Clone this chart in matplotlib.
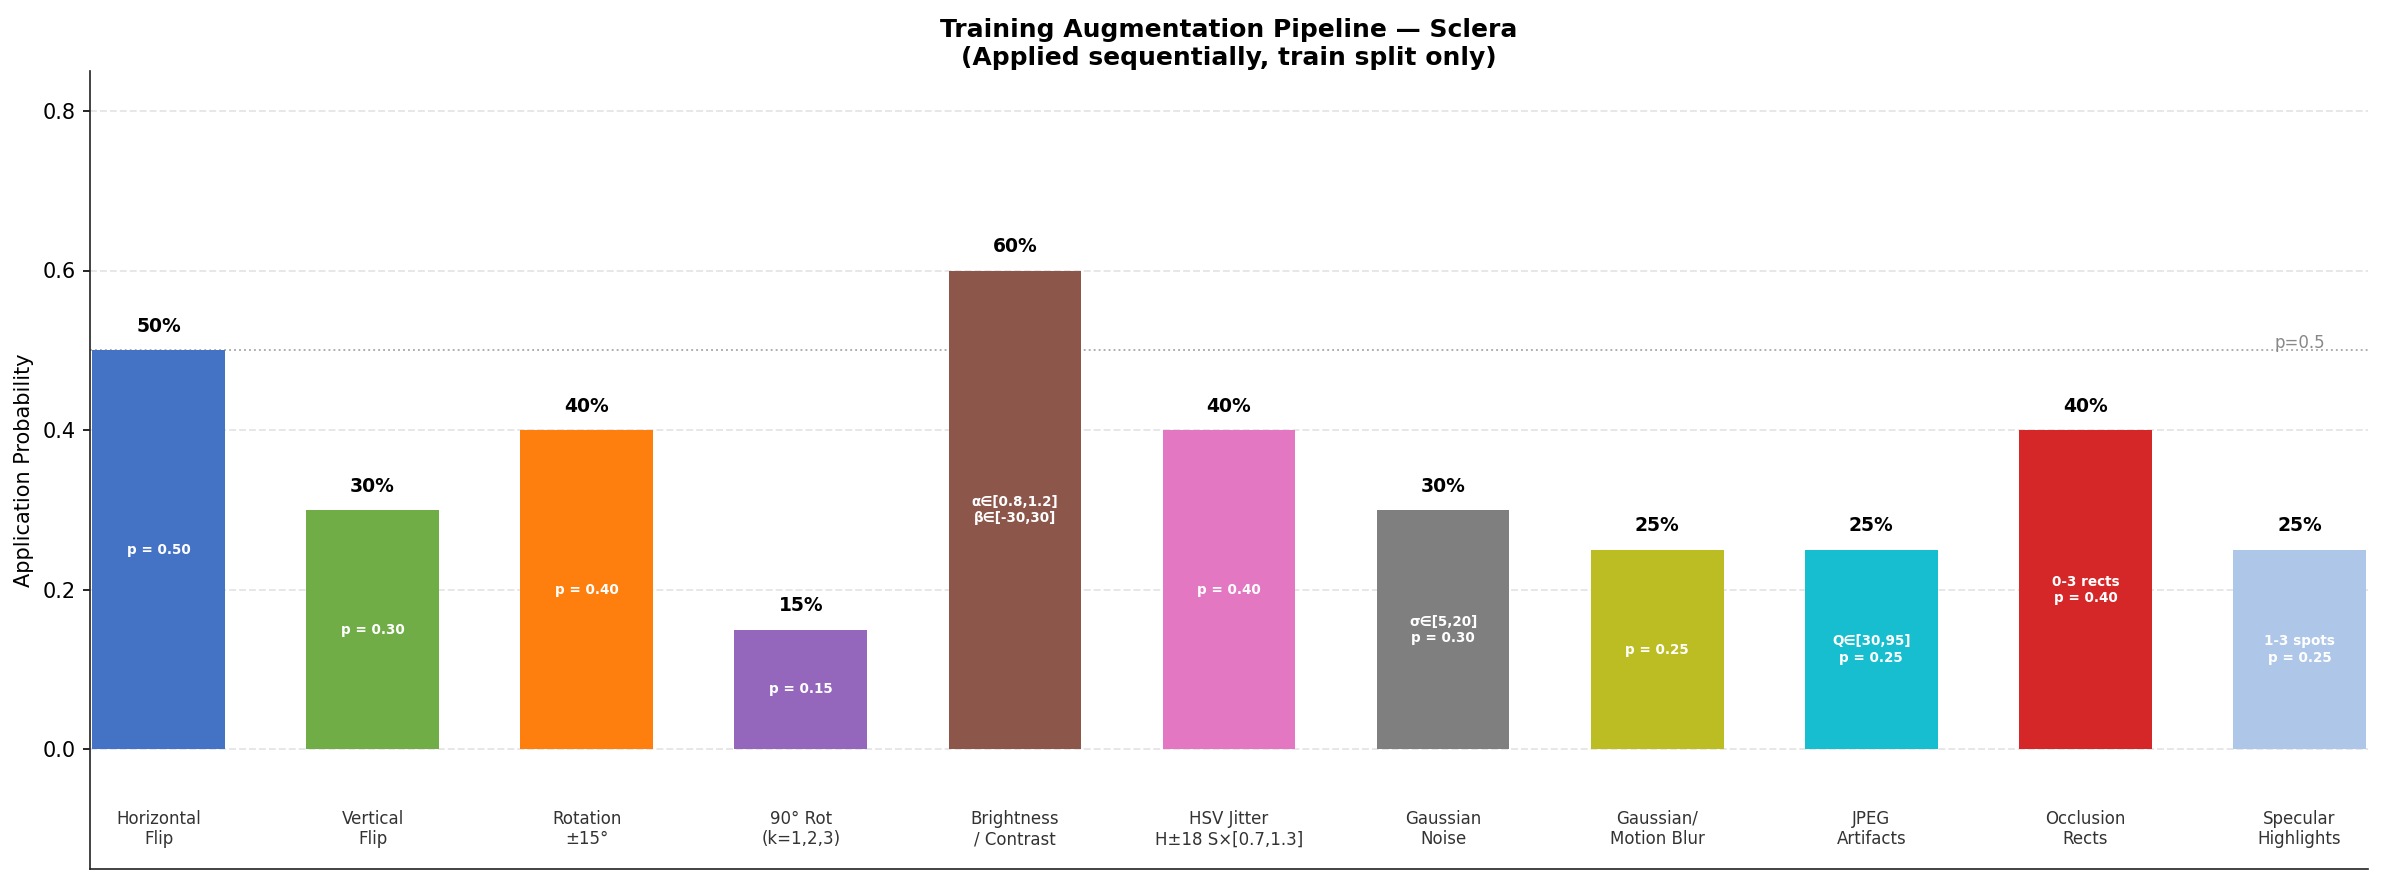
"""Bar chart of per-step application probabilities in the sclera training augmentation pipeline."""

import matplotlib

matplotlib.use("Agg")
import matplotlib.pyplot as plt

STEPS = [
    "Horizontal\nFlip",
    "Vertical\nFlip",
    "Rotation\n±15°",
    "90° Rot\n(k=1,2,3)",
    "Brightness\n/ Contrast",
    "HSV Jitter\nH±18 S×[0.7,1.3]",
    "Gaussian\nNoise",
    "Gaussian/\nMotion Blur",
    "JPEG\nArtifacts",
    "Occlusion\nRects",
    "Specular\nHighlights",
]
PROBS = [0.50, 0.30, 0.40, 0.15, 0.60, 0.40, 0.30, 0.25, 0.25, 0.40, 0.25]
INNER_NOTES = [
    "p = 0.50",
    "p = 0.30",
    "p = 0.40",
    "p = 0.15",
    "α∈[0.8,1.2]\nβ∈[-30,30]",
    "p = 0.40",
    "σ∈[5,20]\np = 0.30",
    "p = 0.25",
    "Q∈[30,95]\np = 0.25",
    "0-3 rects\np = 0.40",
    "1-3 spots\np = 0.25",
]
COLORS = [
    "#4472c4", "#70ad47", "#ff7f0e", "#9467bd", "#8c564b", "#e377c2",
    "#7f7f7f", "#bcbd22", "#17becf", "#d62728", "#aec7e8",
]
REF_P = 0.5

fig = plt.figure(figsize=(2385 / 150, 884 / 150), dpi=150)
ax = fig.add_axes([90 / 2385, 15 / 884, (2368 - 90) / 2385, (869 - 71) / 884])

x = list(range(len(STEPS)))
ax.bar(x, PROBS, width=0.62, color=COLORS, zorder=2)

for xi, p, note, step in zip(x, PROBS, INNER_NOTES, STEPS):
    ax.text(xi, p + 0.018, f"{p:.0%}", ha="center", va="bottom",
            fontsize=9, fontweight="bold", color="black")
    ax.text(xi, p / 2, note, ha="center", va="center",
            fontsize=6.5, fontweight="bold", color="white", zorder=3)
    ax.text(xi, -0.1, step, ha="center", va="center", fontsize=8, color="#333333")

# reference line at p=0.5
ax.axhline(REF_P, color="#aaaaaa", linestyle=":", linewidth=0.9, zorder=1)
ax.text(10.12, REF_P - 0.002, "p=0.5", ha="right", va="bottom", fontsize=8, color="#888888")

ax.set_xlim(-0.32, 10.32)
ax.set_ylim(-0.15, 0.85)
ax.set_yticks([0.0, 0.2, 0.4, 0.6, 0.8])
ax.set_xticks([])
ax.set_ylabel("Application Probability", fontsize=10)
ax.yaxis.grid(True, linestyle="--", color="#e6e6e6", linewidth=0.9, zorder=0)
ax.set_axisbelow(True)
for side in ("top", "right"):
    ax.spines[side].set_visible(False)
for side in ("left", "bottom"):
    ax.spines[side].set_color("#222222")
ax.tick_params(axis="y", labelsize=10)

ax.set_title("Training Augmentation Pipeline — Sclera\n(Applied sequentially, train split only)",
             fontsize=12, fontweight="bold", pad=3)

fig.savefig("out.png", dpi=150, facecolor="white")
